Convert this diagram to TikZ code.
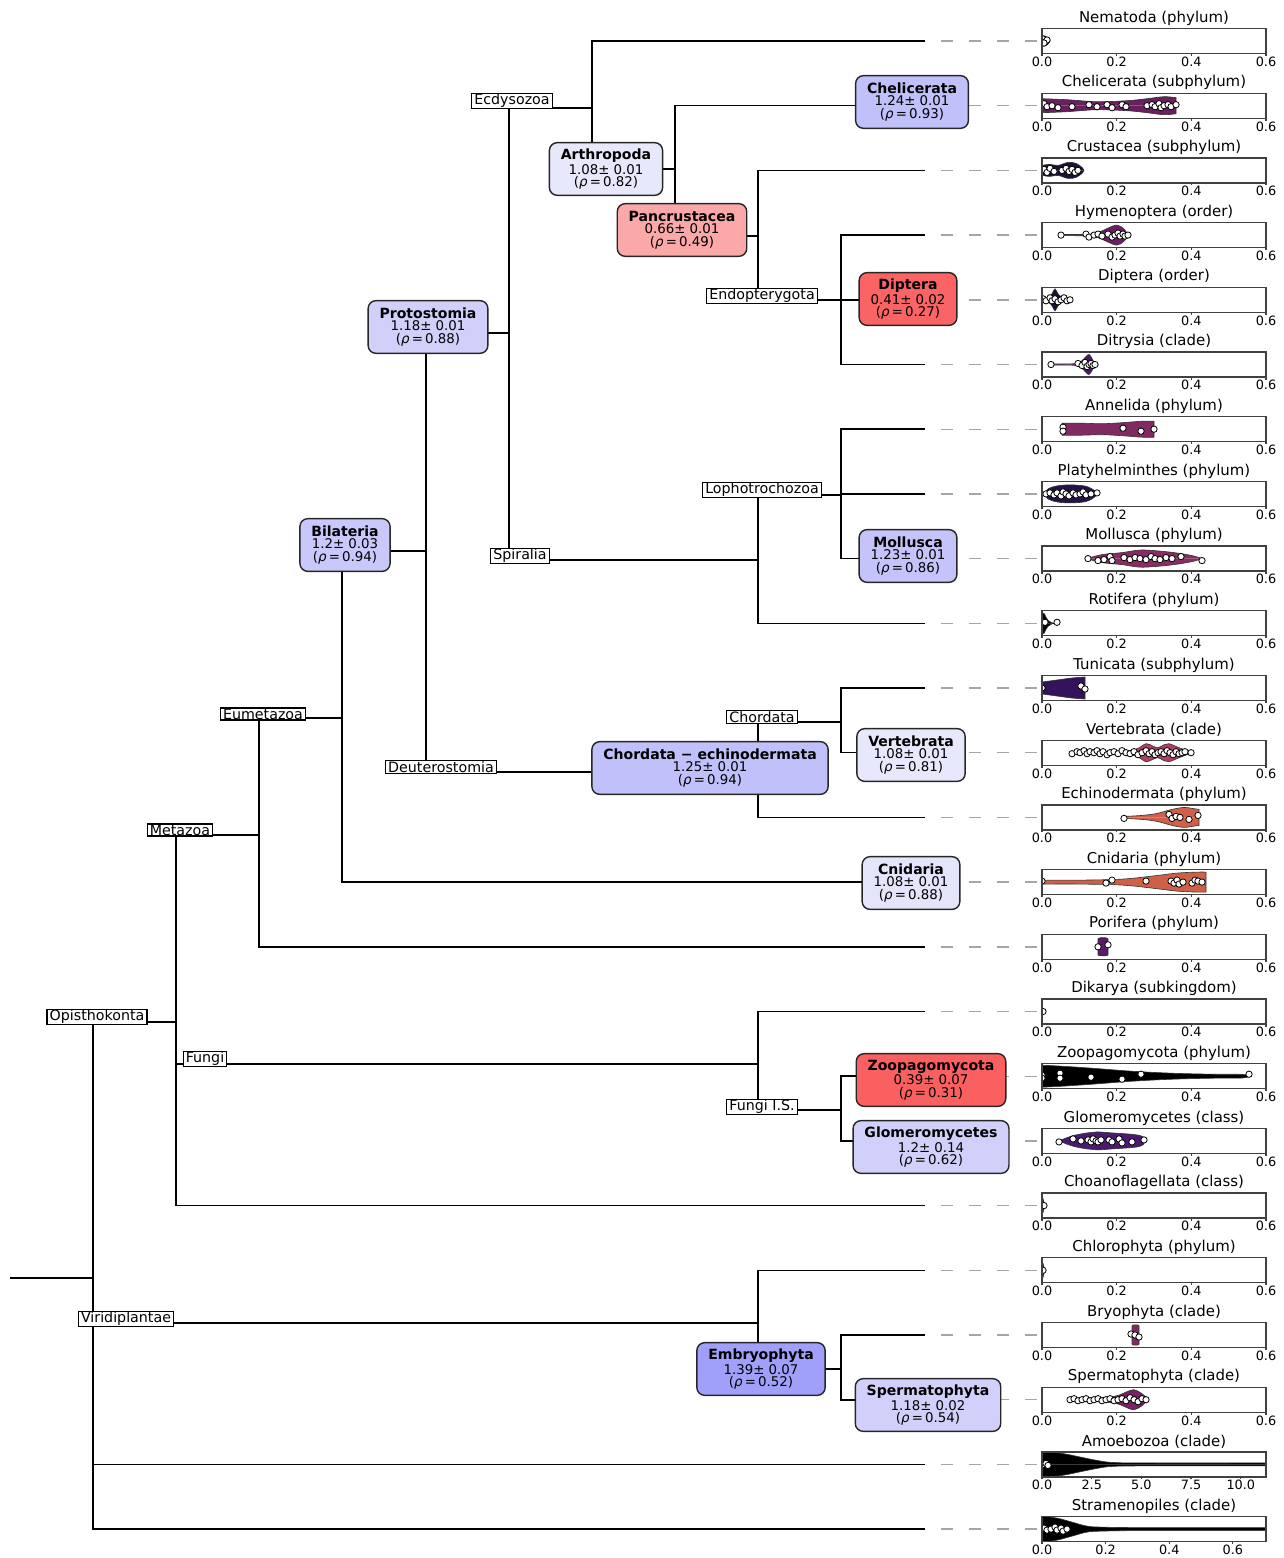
\documentclass[tikz,border=0pt]{standalone}
\usepackage{fontspec}
\setmainfont{DejaVu Sans}

% violin colours
\definecolor{cheli}{RGB}{106,32,94}
\definecolor{crust}{RGB}{30,16,58}
\definecolor{hymen}{RGB}{110,30,100}
\definecolor{dipt}{RGB}{26,16,48}
\definecolor{ditry}{RGB}{74,22,104}
\definecolor{annel}{RGB}{128,42,98}
\definecolor{platy}{RGB}{36,20,70}
\definecolor{moll}{RGB}{137,44,101}
\definecolor{tunic}{RGB}{52,18,92}
\definecolor{verte}{RGB}{176,64,94}
\definecolor{echin}{RGB}{208,96,74}
\definecolor{cnid}{RGB}{207,96,72}
\definecolor{porif}{RGB}{90,26,106}
\definecolor{glom}{RGB}{74,26,110}
\definecolor{bryo}{RGB}{126,42,100}
\definecolor{sperm}{RGB}{122,32,100}
% box colours
\definecolor{chelibox}{RGB}{192,192,250}
\definecolor{arthbox}{RGB}{232,232,252}
\definecolor{pancbox}{RGB}{250,168,168}
\definecolor{diptbox}{RGB}{250,100,100}
\definecolor{protbox}{RGB}{208,208,250}
\definecolor{bilabox}{RGB}{200,200,250}
\definecolor{mollbox}{RGB}{196,196,250}
\definecolor{chechbox}{RGB}{192,192,250}
\definecolor{vertbox}{RGB}{232,232,252}
\definecolor{cnidbox}{RGB}{228,228,250}
\definecolor{zoopbox}{RGB}{250,96,96}
\definecolor{glombox}{RGB}{208,208,250}
\definecolor{embrbox}{RGB}{160,160,250}
\definecolor{spermbox}{RGB}{208,208,250}

\tikzset{
  branch/.style={line width=0.9pt},
  guide/.style={black!35, line width=0.8pt, dash pattern=on 7pt off 9pt, dash phase=7pt},
  grp/.style={draw, fill=white, line width=0.7pt, inner xsep=1.5pt, inner ysep=0.4pt,
    font=\fontsize{8.1}{8.5}\selectfont},
  clade/.style={draw=black!85, line width=0.8pt, rounded corners=4.5pt, align=center,
    inner xsep=6.5pt, inner ysep=3pt, minimum height=30pt, font=\fontsize{7.6}{7.1}\selectfont},
  frame/.style={draw=black!75, line width=0.75pt},
  ptitle/.style={font=\fontsize{8.5}{9}\selectfont, inner sep=0pt},
  ptick/.style={font=\fontsize{7.3}{7.3}\selectfont, inner sep=0pt, anchor=north},
  pt/.style={fill=white, draw=black, line width=0.45pt},
}

% box text: name, value, rho
\newcommand{\cl}[3]{{\fontsize{8}{7.1}\selectfont\bfseries #1}\\#2\\(\textit{ρ}\,=\,#3)}

% panel frame, title and ticks for row #1
\newcommand{\panel}[3]{%
  \pgfmathsetmacro{\py}{41+64.7*#1}
  \draw[frame] (1042,\py-12.5) rectangle (1266,\py+12.5);
  \node[ptitle] (t#1) at (1154,\py-23) {#2};
  \foreach \tx/\tl [count=\k] in {#3}{
    \draw[frame] (1042+\tx,\py+12.5) -- ++(0,2.5);
    \node[ptick] (t#1k\k) at (1042+\tx,\py+15.5) {\tl};
  }}

% violin: row, colour, x start, half profile, x end, dots
\newcommand{\vio}[6]{%
  \begin{scope}[shift={(1042,41+64.7*#1)}]
    \clip (0,-12.5) rectangle (224,12.5);
    \foreach \s in {1,-1}
      \filldraw[fill=#2, draw=black!80, line width=0.35pt, yscale=\s]
        (#3,0) -- plot[smooth, tension=0.6] coordinates {#4} -- (#5,0);
    \foreach \p in {#6} \filldraw[pt] \p circle (1.8pt);
  \end{scope}}

\begin{document}
\begin{tikzpicture}[x=0.02cm, y=-0.02cm]
\useasboundingbox (0,0) rectangle (1284,1558);

% leaves and panel ends
\foreach \i in {0,...,23}{
  \coordinate (L\i) at (925,41+64.7*\i);
  \coordinate (P\i) at (1040,41+64.7*\i);
}

% inner points
\coordinate (start) at (10,1278);
\coordinate (root) at (93,1278);
\coordinate (opi) at (176,1022);
\coordinate (meta) at (259,835);
\coordinate (eumeta) at (342,718);
\coordinate (bilat) at (426,551);
\coordinate (proto) at (509,333);
\coordinate (ecdy) at (592,108);
\coordinate (arthro) at (675,169);
\coordinate (pancr) at (758,236);
\coordinate (endop) at (841,300);
\coordinate (spir) at (758,560);
\coordinate (lopho) at (841,495);
\coordinate (deut) at (758,772);
\coordinate (chord) at (841,722);
\coordinate (fungi) at (758,1064);
\coordinate (fungiis) at (841,1110);
\coordinate (virid) at (758,1323);
\coordinate (embryo) at (841,1369);

% tree
\draw[branch] (start) -- (root);
\draw[branch] (root) |- (opi) (root) |- (virid) (root) |- (L22) (root) |- (L23);
\draw[branch] (opi) |- (meta) (opi) |- (fungi) (opi) |- (L18);
\draw[branch] (meta) |- (eumeta) (meta) |- (L14);
\draw[branch] (eumeta) |- (bilat) (eumeta) |- (L13);
\draw[branch] (bilat) |- (proto) (bilat) |- (deut);
\draw[branch] (proto) |- (ecdy) (proto) |- (spir);
\draw[branch] (ecdy) |- (L0) (ecdy) |- (arthro);
\draw[branch] (arthro) |- (L1) (arthro) |- (pancr);
\draw[branch] (pancr) |- (L2) (pancr) |- (endop);
\draw[branch] (endop) |- (L3) (endop) |- (L4) (endop) |- (L5);
\draw[branch] (spir) |- (lopho) (spir) |- (L9);
\draw[branch] (lopho) |- (L6) (lopho) |- (L7) (lopho) |- (L8);
\draw[branch] (deut) |- (chord) (deut) |- (L12);
\draw[branch] (chord) |- (L10) (chord) |- (L11);
\draw[branch] (fungi) |- (L15) (fungi) |- (fungiis);
\draw[branch] (fungiis) |- (L16) (fungiis) |- (L17);
\draw[branch] (virid) |- (L19) (virid) |- (embryo);
\draw[branch] (embryo) |- (L20) (embryo) |- (L21);

% leaves to panels
\foreach \i in {0,...,23}
  \draw[guide] (L\i) -- (P\i);

% group labels
\node[grp] (nEcdy) at (512,101) {Ecdysozoa};
\node[grp] (nSpir) at (520,556) {Spiralia};
\node[grp] (nEndop) at (762,296) {Endopterygota};
\node[grp] (nLopho) at (762,490) {Lophotrochozoa};
\node[grp] (nChord) at (762,717) {Chordata};
\node[grp] (nDeut) at (441,767) {Deuterostomia};
\node[grp] (nEumeta) at (263,714) {Eumetazoa};
\node[grp] (nMeta) at (180,830) {Metazoa};
\node[grp] (nOpi) at (97,1017) {Opisthokonta};
\node[grp] (nFungi) at (205,1059) {Fungi};
\node[grp] (nFungiIS) at (762,1107) {Fungi I.S.};
\node[grp] (nVirid) at (126,1319) {Viridiplantae};

% scored clades
\node[clade, fill=chelibox] (bCheli) at (912,102) {\cl{Chelicerata}{1.24± 0.01}{0.93}};
\node[clade, fill=arthbox] (bArthro) at (606,169) {\cl{Arthropoda}{1.08± 0.01}{0.82}};
\node[clade, fill=pancbox] (bPancr) at (682,230) {\cl{Pancrustacea}{0.66± 0.01}{0.49}};
\node[clade, fill=diptbox] (bDipt) at (908,299) {\cl{Diptera}{0.41± 0.02}{0.27}};
\node[clade, fill=protbox] (bProto) at (428,327) {\cl{Protostomia}{1.18± 0.01}{0.88}};
\node[clade, fill=bilabox] (bBilat) at (345,545) {\cl{Bilateria}{1.2± 0.03}{0.94}};
\node[clade, fill=mollbox] (bMoll) at (908,556) {\cl{Mollusca}{1.23± 0.01}{0.86}};
\node[clade, fill=chechbox] (bChEch) at (710,768) {\cl{Chordata − echinodermata}{1.25± 0.01}{0.94}};
\node[clade, fill=vertbox] (bVert) at (911,755) {\cl{Vertebrata}{1.08± 0.01}{0.81}};
\node[clade, fill=cnidbox] (bCnid) at (911,883) {\cl{Cnidaria}{1.08± 0.01}{0.88}};
\node[clade, fill=zoopbox] (bZoop) at (931,1080) {\cl{Zoopagomycota}{0.39± 0.07}{0.31}};
\node[clade, fill=glombox] (bGlom) at (931,1147) {\cl{Glomeromycetes}{1.2± 0.14}{0.62}};
\node[clade, fill=embrbox] (bEmbr) at (761,1369) {\cl{Embryophyta}{1.39± 0.07}{0.52}};
\node[clade, fill=spermbox] (bSperm) at (928,1405) {\cl{Spermatophyta}{1.18± 0.02}{0.54}};

% violins
\vio{0}{black}{0}{(0,5) (3,5) (6,3) (8,0)}{8}{(1,-2),(3,1),(5,-1),(2,2)}
\vio{1}{cheli}{0}{(0,7) (25,6) (55,4) (85,5) (105,7) (122,9) (134,8)}{134}
  {(2,-2),(5,1),(10,0),(16,2),(30,1),(47,-1),(55,1),(65,-1),(70,2),(80,-1),(84,1),(105,0),(110,-1),(113,1),(117,-2),(119,2),(122,0),(126,-1),(129,1),(134,-1)}
\vio{2}{crust}{0}{(0,5) (8,6) (16,5) (26,8) (34,7) (40,3) (42,0)}{42}
  {(2,-1),(5,2),(8,-2),(12,1),(20,0),(24,-2),(27,1),(30,-1),(33,2),(36,0)}
\vio{3}{hymen}{19}{(19,0.6) (45,0.8) (56,2.5) (66,7) (75,10) (82,6) (86,0)}{86}
  {(19,0),(44,-1),(47,2),(52,0),(56,-1),(60,1),(66,-1),(70,2),(73,0),(76,-2),(78,1),(81,-1),(83,1),(86,0)}
\vio{4}{dipt}{0}{(0,1) (6,2) (10,6) (13,11) (16,6) (21,2) (28,1)}{28}
  {(1,-1),(4,1),(8,-2),(10,1),(13,-1),(16,2),(19,0),(22,-2),(25,1),(28,0)}
\vio{5}{ditry}{9}{(9,0.6) (32,0.8) (39,3) (44,8) (47,10) (50,6) (53,0)}{53}
  {(9,0),(36,-1),(40,1),(43,-2),(45,2),(47,0),(49,-1),(51,1),(53,0)}
\vio{6}{annel}{20}{(20,6) (40,6) (60,5.5) (80,6.5) (100,8) (112,8)}{112}
  {(21,-2),(21,2),(81,-1),(99,2),(112,0)}
\vio{7}{platy}{2}{(2,0) (6,5) (15,8) (28,9) (42,8) (50,5) (56,0)}{56}
  {(4,0),(8,-1),(12,1),(15,-1),(19,2),(21,-2),(24,0),(27,2),(31,-1),(34,1),(38,0),(41,-2),(44,1),(49,0),(55,-1)}
\vio{8}{moll}{45}{(45,0) (60,4) (80,6) (97,8.5) (112,8) (132,6) (150,3) (160,0)}{160}
  {(46,0),(56,2),(62,1),(68,-2),(70,2),(82,-1),(88,1),(93,-1),(98,0),(104,1),(109,-2),(113,0),(118,1),(124,-1),(130,0),(139,-2),(160,2)}
\vio{9}{black}{0}{(0,10) (2,10) (4,6) (6,3) (9,1) (12,0)}{12}{(3,-1),(15,-1)}
\vio{10}{tunic}{0}{(0,6) (15,8) (30,10) (43,11)}{43}{(0,0),(39,-2),(43,1)}
\vio{11}{verte}{30}{(30,0.6) (80,1) (95,4) (104,9) (110,7) (116,5) (122,8) (127,9) (137,5) (145,2) (149,0)}{149}
  {(30,1),(35,-1),(38,0),(42,-2),(45,1),(48,-1),(52,0),(55,-2),(58,1),(61,-1),(65,2),(68,0),(72,-1),(76,1),(80,-2),(84,0),(88,1),(92,-1),(96,2),(100,0),(104,-2),(107,1),(110,-1),(113,2),(116,0),(119,-1),(122,1),(125,-2),(128,0),(131,2),(134,-1),(137,1),(140,0),(143,-1),(149,0)}
\vio{12}{echin}{82}{(82,1) (100,2) (115,4) (130,8) (142,10) (150,9) (157,8)}{157}
  {(82,1),(127,-3),(130,1),(134,-1),(138,0),(147,2),(156,-2)}
\vio{13}{cnid}{0}{(0,2) (40,2) (80,3) (110,6) (135,9) (155,10) (164,10)}{164}
  {(0,-1),(64,1),(70,-2),(104,-1),(129,-1),(132,1),(135,-2),(137,2),(141,0),(150,1),(153,-2),(156,-1),(160,0)}
\vio{14}{porif}{56}{(56,8) (58,9) (64,9) (66,8)}{66}{(56,0),(66,-2)}
\vio{15}{black}{0}{(0,4) (1,3) (2,0)}{2}{(1,0)}
\vio{16}{black}{0}{(0,11) (20,10) (50,8) (90,5) (130,3) (170,2) (200,1.8) (207,0)}{207}
  {(0,-1),(0,2),(18,-3),(18,2),(49,1),(80,3),(99,-2),(207,-2)}
\vio{17}{glom}{17}{(17,0) (30,5) (45,8) (55,9) (70,8) (85,7) (95,6) (101,4) (103,0)}{103}
  {(17,1),(31,-2),(39,0),(46,-1),(49,1),(51,-2),(54,0),(56,1),(59,-1),(67,-1),(70,1),(77,-2),(80,2),(90,1),(102,-1)}
\vio{18}{black}{0}{(0,8) (1,7) (2,3) (3,0)}{3}{(2,0)}
\vio{19}{black}{0}{(0,8) (1,7) (2,3) (3,0)}{3}{(1,0)}
\vio{20}{bryo}{90}{(90,9) (91,10) (96,10) (97,9)}{97}{(89,-1),(93,0),(97,2)}
\vio{21}{sperm}{28}{(28,1) (60,2) (75,4) (85,8) (92,10) (100,6) (106,0)}{106}
  {(28,0),(32,-1),(36,1),(40,0),(44,-1),(48,1),(52,0),(56,-1),(60,1),(64,0),(68,-1),(72,1),(76,0),(80,-1),(84,1),(88,-2),(92,0),(96,2),(100,-1),(104,0)}
\vio{22}{black}{0}{(0,13) (20,11) (40,7) (55,4) (70,2) (100,1.5) (224,1.5)}{224}{(1,0),(4,-1),(6,1)}
\vio{23}{black}{0}{(0,13) (15,11) (30,7) (45,3) (60,2) (100,1.5) (224,1.5)}{224}
  {(2,-1),(5,1),(9,0),(13,-2),(15,1),(19,-1),(21,2),(25,0)}

% panels
\foreach \nm [count=\i from 0] in {{Nematoda (phylum)}, {Chelicerata (subphylum)},
  {Crustacea (subphylum)}, {Hymenoptera (order)}, {Diptera (order)}, {Ditrysia (clade)},
  {Annelida (phylum)}, {Platyhelminthes (phylum)}, {Mollusca (phylum)}, {Rotifera (phylum)},
  {Tunicata (subphylum)}, {Vertebrata (clade)}, {Echinodermata (phylum)}, {Cnidaria (phylum)},
  {Porifera (phylum)}, {Dikarya (subkingdom)}, {Zoopagomycota (phylum)},
  {Glomeromycetes (class)}, {Choanoflagellata (class)}, {Chlorophyta (phylum)},
  {Bryophyta (clade)}, {Spermatophyta (clade)}}
  {\panel{\i}{\nm}{0/0.0, 74.67/0.2, 149.33/0.4, 224/0.6}}
\panel{22}{Amoebozoa (clade)}{0/0.0, 49.7/2.5, 99.4/5.0, 149.1/7.5, 198.8/10.0}
\panel{23}{Stramenopiles (clade)}{0/0.0, 63.6/0.2, 127.2/0.4, 190.8/0.6}
\end{tikzpicture}
\end{document}
